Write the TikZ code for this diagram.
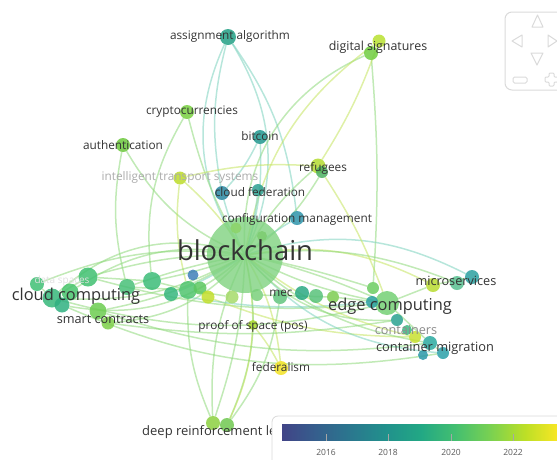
\documentclass[tikz,border=0pt]{standalone}
\usepackage{fontspec}
\setmainfont{Open Sans}
\definecolor{txt}{HTML}{333333}
\definecolor{faded}{HTML}{ABABAB}
\definecolor{eg}{HTML}{8ED87A}
\definecolor{et}{HTML}{7CD2BE}
\definecolor{ey}{HTML}{C4E45E}
\definecolor{navc}{HTML}{DADADA}
\definecolor{bcfill}{HTML}{7FD27F}
\pgfdeclarehorizontalshading{viridis}{100bp}{rgb(0bp)=(0.255,0.267,0.529); rgb(25bp)=(0.255,0.267,0.529); rgb(31.25bp)=(0.208,0.373,0.553); rgb(37.5bp)=(0.165,0.471,0.557); rgb(43.75bp)=(0.129,0.569,0.549); rgb(50bp)=(0.133,0.659,0.518); rgb(56.25bp)=(0.267,0.749,0.439); rgb(62.5bp)=(0.478,0.820,0.318); rgb(68.75bp)=(0.741,0.875,0.149); rgb(75bp)=(0.992,0.906,0.145); rgb(100bp)=(0.992,0.906,0.145)}
\pgfdeclarelayer{bg}
\pgfsetlayers{bg,main}
\tikzset{
  bub/.style 2 args={circle, inner sep=0pt, minimum size=#1, fill=#2, fill opacity=0.85, draw=none},
  lk/.style={draw=#1, line width=1.5pt, draw opacity=0.55},
  lab/.style={font=\fontsize{11.8}{13}\selectfont, text=txt, inner sep=0pt},
  midlab/.style={font=\fontsize{12.7}{14}\selectfont, text=txt, inner sep=0pt},
  biglab/.style={font=\fontsize{16.4}{18}\selectfont, text=txt, inner sep=0pt},
  navshape/.style={draw=navc, line width=1pt, line join=round}
}
\newcommand\kwnode[5]{\definecolor{col#1}{HTML}{#5}\node[bub={#4pt}{col#1}] (#1) at (#2,#3) {};}
\begin{document}
\begin{tikzpicture}[x=1pt,y=-1pt]
\useasboundingbox (0,0) rectangle (557,459);
% ---------- bubbles ----------
\node[bub={76pt}{bcfill}, fill opacity=0.8] (bc) at (245,255) {};
\kwnode{aa}{228}{37}{16}{22A085}
\kwnode{ds1}{371}{53}{14}{70CC40}
\kwnode{ds2}{379}{41}{13}{B8E030}
\kwnode{cr}{187}{112}{14}{78D040}
\kwnode{bt}{260}{137}{14}{1F978E}
\kwnode{au}{123}{145}{14}{6CC83C}
\kwnode{its}{180}{178}{13}{BCDC28}
\kwnode{rf1}{318}{166}{15}{B4DC30}
\kwnode{rf2}{322}{172}{12}{4CB060}
\kwnode{cf1}{222}{193}{14}{2886A0}
\kwnode{cf2}{258}{190}{12}{2AA090}
\kwnode{cm}{297}{218}{14}{2E94AA}
\kwnode{b1}{236}{228}{11}{8CD468}
\kwnode{b2}{262}{236}{10}{7CCC70}
\kwnode{l1}{37}{284}{14}{3FBF74}
\kwnode{l2}{52}{298}{19}{36B77A}
\kwnode{l3}{70}{292}{17}{48C46C}
\kwnode{l4}{88}{277}{19}{40C070}
\kwnode{l5}{98}{311}{17}{6CCC50}
\kwnode{l6}{108}{323}{13}{7CCF48}
\kwnode{l7}{127}{287}{16}{48BF78}
\kwnode{l8}{152}{281}{18}{3CBC78}
\kwnode{l9}{171}{294}{14}{36B67E}
\kwnode{l10}{188}{290}{18}{50C46E}
\kwnode{l11}{193}{275}{11}{3F7FB8}
\kwnode{l12}{200}{288}{13}{5CC860}
\kwnode{l13}{208}{297}{13}{C2DE2A}
\kwnode{l14}{232}{297}{13}{A6DA6A}
\kwnode{l15}{62}{305}{15}{2FB080}
\kwnode{m1}{257}{295}{12}{7AD07A}
\kwnode{m2}{280}{297}{14}{62C47E}
\kwnode{m3}{302}{293}{14}{2AA882}
\kwnode{m4}{316}{296}{14}{58C27A}
\kwnode{m5}{333}{297}{12}{7CCC50}
\kwnode{e0}{387}{303}{24}{74D074}
\kwnode{e1}{373}{288}{12}{6CCC60}
\kwnode{e2}{372}{302}{12}{2AA0A0}
\kwnode{e3}{397}{320}{12}{2AA290}
\kwnode{e4}{407}{330}{10}{3CB880}
\kwnode{e5}{415}{337}{12}{C8E030}
\kwnode{e6}{430}{343}{14}{2AA9A0}
\kwnode{e7}{423}{355}{10}{2A98A8}
\kwnode{e8}{443}{353}{12}{2AA0A8}
\kwnode{u1}{433}{285}{14}{B8DC30}
\kwnode{u2}{457}{283}{14}{58C090}
\kwnode{u3}{472}{277}{14}{2AA0A0}
\kwnode{pos}{253}{325}{10}{A8D82A}
\kwnode{fed}{281}{368}{14}{F2E224}
\kwnode{drl1}{213}{423}{14}{8CD040}
\kwnode{drl2}{227}{425}{14}{70C850}
% ---------- edges ----------
\begin{pgfonlayer}{bg}
\draw[lk=et] (bc.center) to[bend left=30] (aa);
\draw[lk=et] (bc.center) to[bend right=28] (aa);
\draw[lk=et] (cf1) to[bend left=12] (aa);
\draw[lk=et] (cm) to[bend right=14] (aa);
\draw[lk=eg] (bc.center) to[bend left=35] (ds1);
\draw[lk=ey] (bc.center) to[bend left=22] (ds2);
\draw[lk=eg] (ds1) to[bend left=4] (e1);
\draw[lk=ey] (ds2) to[bend left=6] (rf1);
\draw[lk=eg] (bc.center) to[bend left=8] (cr);
\draw[lk=eg] (l8) to[bend left=18] (cr);
\draw[lk=et] (bc.center) to[bend right=10] (bt);
\draw[lk=et] (cf1) to[bend right=8] (bt);
\draw[lk=eg] (bc.center) to[bend left=18] (au);
\draw[lk=eg] (l7) to[bend left=12] (au);
\draw[lk=ey] (bc.center) to[bend right=8] (its);
\draw[lk=ey] (l10) to[bend left=10] (its);
\draw[lk=eg] (bc.center) to[bend left=10] (rf1);
\draw[lk=eg] (bc.center) to[bend right=12] (rf2);
\draw[lk=ey] (its) to[bend left=8] (rf1);
\draw[lk=et] (bc.center) to[bend left=5] (cf1);
\draw[lk=et] (bc.center) to[bend right=5] (cf2);
\draw[lk=et] (bc.center) to[bend left=5] (cm);
\draw[lk=ey] (bc.center) to[bend left=5] (pos);
\draw[lk=ey] (bc.center) to[bend left=12] (fed);
\draw[lk=ey] (pos) to[bend left=5] (fed);
\draw[lk=eg] (bc.center) to[bend right=14] (drl1);
\draw[lk=eg] (bc.center) to[bend left=8] (drl1);
\draw[lk=eg] (bc.center) to[bend left=18] (drl2);
\draw[lk=eg] (l10) to[bend right=12] (drl1);
\draw[lk=eg] (m2) to[bend left=14] (drl2);
\draw[lk=ey] (pos) to[bend left=10] (drl2);
\draw[lk=eg] (bc.center) to[bend right=14] (l1);
\draw[lk=eg] (bc.center) to[bend left=16] (l2);
\draw[lk=eg] (bc.center) to[bend right=8] (l4);
\draw[lk=eg] (bc.center) to[bend left=10] (l5);
\draw[lk=eg] (bc.center) to[bend left=22] (l6);
\draw[lk=eg] (bc.center) to[bend right=4] (l7);
\draw[lk=eg] (bc.center) to[bend left=4] (l8);
\draw[lk=eg] (bc.center) to[bend left=26] (l15);
\draw[lk=eg] (bc.center) to[bend right=22] (l3);
\draw[lk=eg] (bc.center) to[bend right=30] (l2);
\draw[lk=et] (bc.center) to[bend left=6] (l9);
\draw[lk=eg] (l1) -- (l2);
\draw[lk=eg] (l2) -- (l4);
\draw[lk=eg] (l4) -- (l8);
\draw[lk=eg] (l8) -- (l10);
\draw[lk=eg] (l7) -- (l10);
\draw[lk=eg] (l10) -- (l14);
\draw[lk=eg] (l2) to[bend right=14] (e0);
\draw[lk=eg] (l5) to[bend right=12] (e6);
\draw[lk=eg] (l4) to[bend right=10] (e0);
\draw[lk=eg] (l15) to[bend right=16] (e8);
\draw[lk=ey] (l13) to[bend right=10] (e5);
\draw[lk=et] (l9) to[bend right=8] (e2);
\draw[lk=eg] (l6) to[bend right=8] (e3);
\draw[lk=eg] (bc.center) to[bend left=5] (e0);
\draw[lk=eg] (bc.center) to[bend right=8] (e0);
\draw[lk=eg] (bc.center) to[bend right=16] (e6);
\draw[lk=et] (bc.center) to[bend right=22] (e8);
\draw[lk=ey] (bc.center) to[bend right=12] (e5);
\draw[lk=eg] (bc.center) to[bend right=26] (e3);
\draw[lk=ey] (bc.center) to[bend left=18] (u1);
\draw[lk=et] (bc.center) to[bend left=22] (u3);
\draw[lk=eg] (bc.center) to[bend left=14] (u2);
\draw[lk=eg] (bc.center) to[bend left=3] (e1);
\draw[lk=eg] (m1) -- (m5);
\draw[lk=eg] (m5) -- (e0);
\draw[lk=eg] (e0) -- (u1);
\draw[lk=eg] (u1) -- (u3);
\draw[lk=eg] (e0) -- (e6);
\draw[lk=eg] (e6) -- (e8);
\draw[lk=ey] (e0) to[bend right=6] (rf2);
\end{pgfonlayer}
% ---------- labels ----------
\node[lab] (t-aa) at (230,36) {assignment algorithm};
\node[lab, font=\fontsize{12.4}{14}\selectfont] (t-ds) at (378,47) {digital signatures};
\node[lab] (t-cr) at (192,112) {cryptocurrencies};
\node[lab] (t-bt) at (260,136) {bitcoin};
\node[lab] (t-au) at (123,145) {authentication};
\node[lab, text=faded] (t-its) at (180,177) {intelligent transport systems};
\node[lab] (t-rf) at (323,168) {refugees};
\node[lab] (t-cf) at (260,192) {cloud federation};
\node[lab] (t-cm) at (297,219) {configuration management};
\node[inner sep=0pt, text=txt, font=\fontsize{27.4}{30}\selectfont] (t-bc) at (245,250) {blockchain};
\node[lab, text=black!12, font=\fontsize{10}{12}\selectfont] (t-dsp) at (62,281) {data spaces};
\node[biglab] (t-cc) at (76,296) {cloud computing};
\node[midlab] (t-sc) at (103,319) {smart contracts};
\node[lab] (t-mec) at (281,293) {mec};
\node[biglab] (t-ec) at (390,306) {edge computing};
\node[midlab] (t-ms) at (456,281) {microservices};
\node[midlab, text=black!45] (t-ct) at (406,330) {containers};
\node[midlab, font=\fontsize{12.8}{14}\selectfont] (t-cmg) at (435,348) {container migration};
\node[lab] (t-pos) at (253,326) {proof of space (pos)};
\node[lab] (t-fed) at (281,367) {federalism};
\node[lab, anchor=west, font=\fontsize{13}{15}\selectfont] (t-drl) at (142,432) {deep reinforcement learning};
% ---------- legend ----------
\draw[draw=navc, fill=white, rounded corners=6pt, line width=0.8pt] (272,416) rectangle (575,475);
\shade[shading=viridis] (282,424) rectangle (560,440);
\foreach \xx/\yy in {326/2016, 388/2018, 451/2020, 513/2022}{
  \draw[black!35, line width=0.6pt] (\xx,434) -- (\xx,441);
  \node[font=\fontsize{8.5}{10}\selectfont, text=black!65, inner sep=0pt] at (\xx,452) {\yy};
}
% ---------- navigation control ----------
\draw[navshape, rounded corners=7pt] (505,12) rectangle (580,90);
\draw[navshape] (532,27) -- (543,27) -- (537.5,15) -- cycle;
\draw[navshape] (522,35) -- (522,47) -- (512,41) -- cycle;
\draw[navshape] (548,35) -- (548,47) -- (557,41) -- cycle;
\draw[navshape] (531,53) -- (543,53) -- (537,65) -- cycle;
\draw[navshape, rounded corners=1.5pt] (513,77) rectangle (527,83);
\draw[navshape, rounded corners=1pt] (549,73) -- (554,73) -- (554,77) -- (558,77) -- (558,82) -- (554,82) -- (554,86) -- (549,86) -- (549,82) -- (545,82) -- (545,77) -- (549,77) -- cycle;
\end{tikzpicture}
\end{document}
